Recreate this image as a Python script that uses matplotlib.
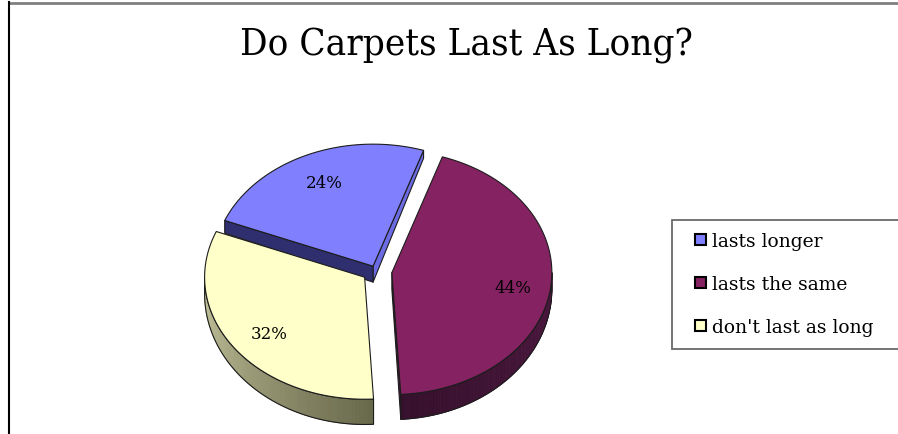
import numpy as np
import matplotlib
matplotlib.use("Agg")
import matplotlib.pyplot as plt
from matplotlib.patches import Polygon, Patch, Rectangle
from matplotlib.colors import to_rgb
from matplotlib.font_manager import FontProperties
from matplotlib.legend_handler import HandlerPatch

# ---- data ----
title = "Do Carpets Last As Long?"
categories = ["lasts longer", "lasts the same", "don't last as long"]
shares = [24, 44, 32]

# ---- style ----
top_colors = ["#8080FF", "#852262", "#FFFFCA"]
wall_colors = [("#6060C0", "#404080"), ("#36102C", "#4C173F"), ("#C8C8A0", "#67674A")]
edge_light = ["#6B6BE3", "#4A153D", "#9A9A78"]   # radial face turned to the right
edge_dark = ["#2F2F70", "#3A1030", "#77775A"]    # radial face turned to the left
explode = [7, 16, 14]

W, H = 898, 435
fig = plt.figure(figsize=(W / 100, H / 100), dpi=100)
ax = fig.add_axes([0, 0, 1, 1])
ax.set_xlim(0, W)
ax.set_ylim(H, 0)
ax.axis("off")

title_font = FontProperties(family="DejaVu Serif", stretch="condensed", size=27.5)
label_font = FontProperties(family="DejaVu Serif", size=12)
legend_font = FontProperties(family="DejaVu Serif", size=13.5)

cx, cy = 376, 272
rx, ry = 160, 122
start = 158.0          # first slice starts here and runs clockwise
outline = "#1c1c1c"


def depth(y):
    return 13 + (y - 225) * 0.07


def arc(c, t):
    t = np.radians(np.asarray(t, dtype=float))
    return c[0] + rx * np.cos(t), c[1] - ry * np.sin(t)


def lower(x, y):
    return x, y + depth(y)


def mix(c0, c1, f):
    a, b = np.array(to_rgb(c0)), np.array(to_rgb(c1))
    return tuple(a + (b - a) * f)


slices = []
acc = 0.0
for i, v in enumerate(shares):
    hi = start - acc * 3.6
    lo = hi - v * 3.6
    acc += v
    mid = np.radians((hi + lo) / 2)
    c = (cx + explode[i] * np.cos(mid), cy - explode[i] * np.sin(mid) * ry / rx)
    slices.append((i, v, lo, hi, mid, c))

# paint from back to front
slices.sort(key=lambda s: -np.sin(s[4]))

for i, v, lo, hi, mid, c in slices:
    # radial side faces that turn toward the viewer
    for ang, normal, col in ((lo, lo - 90, edge_light[i]), (hi, hi + 90, edge_dark[i])):
        if np.sin(np.radians(normal)) < 0:
            ex, ey = arc(c, ang)
            bx0, by0 = lower(c[0], c[1])
            bx1, by1 = lower(ex, ey)
            ax.add_patch(Polygon([(c[0], c[1]), (ex, ey), (bx1, by1), (bx0, by0)],
                                 closed=True, facecolor=col, edgecolor=outline,
                                 linewidth=0.8, joinstyle="round"))

    # front part of the curved outer wall, shaded along its length
    w0, w1 = max(lo, -180.0), min(hi, 0.0)
    if w1 > w0:
        ts = np.linspace(w0, w1, 90)
        xs, ys = arc(c, ts)
        xb, yb = lower(xs, ys)
        for k in range(len(ts) - 1):
            f = (ts[k] - w0) / (w1 - w0)
            col = mix(wall_colors[i][0], wall_colors[i][1], f)
            ax.add_patch(Polygon([(xs[k], ys[k]), (xs[k + 1], ys[k + 1]),
                                  (xb[k + 1], yb[k + 1]), (xb[k], yb[k])],
                                 closed=True, facecolor=col, edgecolor=col,
                                 linewidth=0.6))
        ring = list(zip(xs, ys)) + list(zip(xb[::-1], yb[::-1]))
        ax.add_patch(Polygon(ring, closed=True, facecolor="none",
                             edgecolor=outline, linewidth=0.8))

    # top face
    ts = np.linspace(lo, hi, 120)
    xs, ys = arc(c, ts)
    ax.add_patch(Polygon([(c[0], c[1])] + list(zip(xs, ys)), closed=True,
                         facecolor=top_colors[i], edgecolor=outline,
                         linewidth=0.8, joinstyle="round"))

    # value label
    lx = c[0] + 0.75 * rx * np.cos(mid) + 2
    ly = c[1] - 0.77 * ry * np.sin(mid) + 2
    ax.text(lx, ly, f"{v}%", ha="center", va="center", fontproperties=label_font,
            color="black")

# title
ax.text(466, 55, title, ha="center", va="baseline", fontproperties=title_font,
        color="black")


# legend keys: small squares sitting at the right end of the key box
def square_key(legend, orig_handle, xdescent, ydescent, width, height, fontsize):
    s = height
    return Rectangle((-xdescent + width - s, -ydescent), s, s)


handles = [Patch(facecolor=top_colors[k], edgecolor="black", linewidth=1.5)
           for k in range(len(categories))]
leg = ax.legend(handles, categories, loc="upper left",
                bbox_to_anchor=(672 / W, 1 - 348 / H, 250 / W, 127 / H),
                bbox_transform=fig.transFigure, mode="expand", borderaxespad=0,
                prop=legend_font, fancybox=False, handlelength=1.17,
                handleheight=0.53, handletextpad=0.33, labelspacing=1.33,
                borderpad=0.66,
                handler_map={Patch: HandlerPatch(patch_func=square_key)})
leg.get_frame().set_edgecolor("#454545")
leg.get_frame().set_linewidth(1.3)

# chart area border (top and left edges)
ax.plot([9, W], [3.5, 3.5], color="#808080", lw=2, clip_on=False)
ax.plot([9, 9], [3, H], color="black", lw=1.5, clip_on=False)

fig.savefig("out.png", dpi=100)
